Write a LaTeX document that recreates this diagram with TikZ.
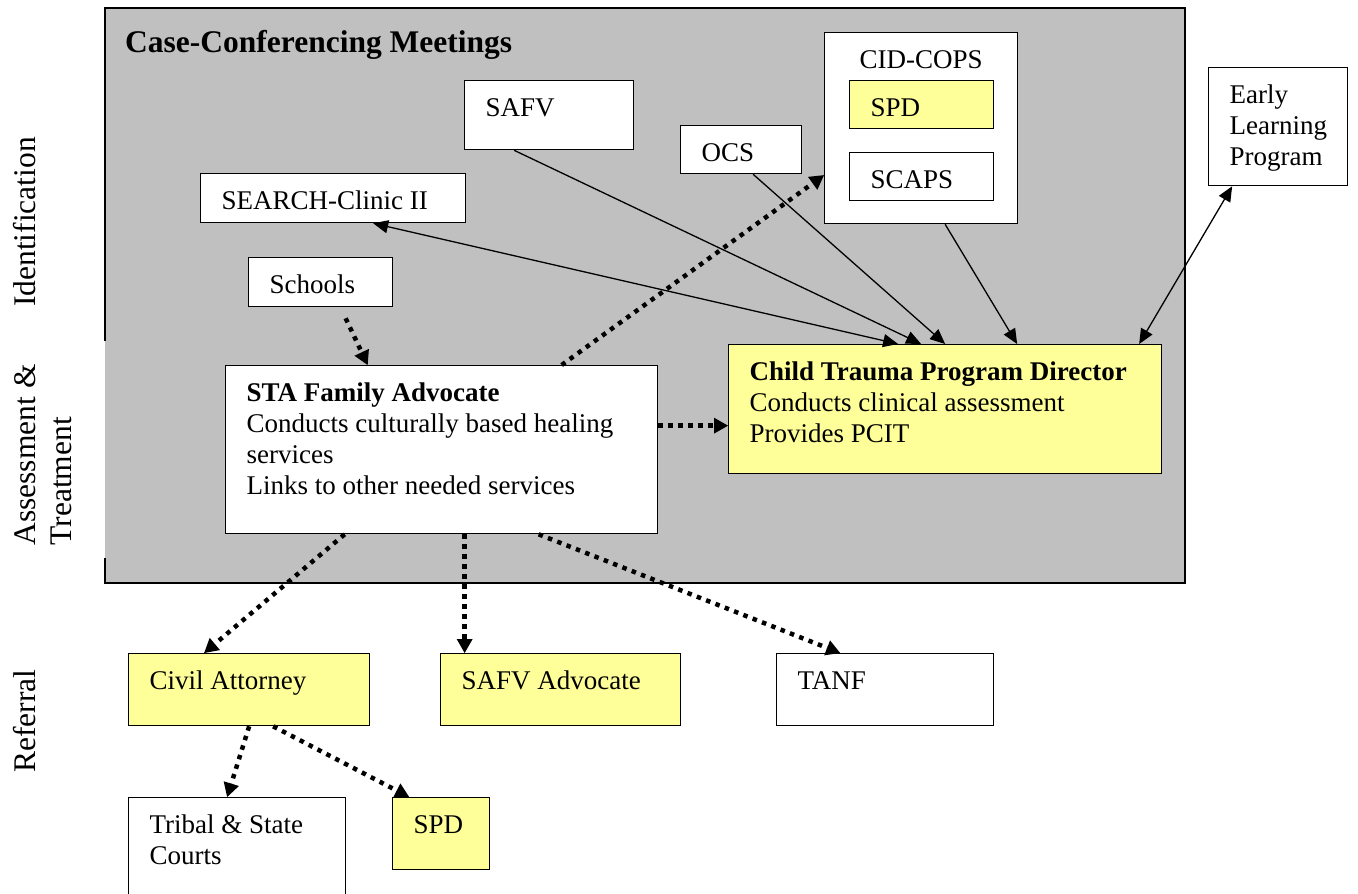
\documentclass[tikz,border=0pt]{standalone}
\usepackage{fontspec}
\setmainfont{Liberation Serif}
\usetikzlibrary{arrows.meta}
\definecolor{panel}{HTML}{C0C0C0}
\definecolor{hilite}{HTML}{FFFF99}
\newcommand{\bodyfont}{\fontsize{27}{31}\selectfont}
\newcommand{\sidefont}{\fontsize{31.5}{36}\selectfont}
\newcommand{\pane}[3]{\parbox[t][#2pt][t]{#1pt}{\raggedright\leftskip=21pt\vspace*{14pt}\strut#3}}
\tikzset{
  cell/.style={draw, line width=1.3pt, fill=white, anchor=north west, inner sep=0pt, font=\bodyfont},
  hot/.style={cell, fill=hilite},
  side/.style={font=\sidefont, rotate=90, inner sep=0pt},
  link/.style={line width=1.3pt, -{Triangle[length=15pt,width=13pt]}},
  twoway/.style={line width=1.3pt, {Triangle[length=15pt,width=13pt]}-{Triangle[length=15pt,width=13pt]}},
  dotlink/.style={line width=4.5pt, dash pattern=on 4.5pt off 5.5pt, -{Triangle[length=14pt,width=16pt,line width=0pt]}}
}
\begin{document}
\begin{tikzpicture}[x=1pt, y=-1pt]
  \clip (0,0) rectangle (1358,894);
  \fill[panel] (105,8) rectangle (1185,583);
  \draw[line width=2pt] (105,341) -- (105,8) -- (1185,8) -- (1185,583) -- (105,583) -- (105,558);
  \node[font=\sidefont\bfseries, anchor=base west, inner sep=0pt] (title) at (125,52) {Case-Conferencing Meetings};
  \node[side, anchor=base] (ident) at (35,222) {Identification};
  \node[side, align=left] (assess) at (43,455) {Assessment \&\\Treatment};
  \node[side, anchor=base] (refer) at (35,721) {Referral};

  \node[cell] (safv) at (464,80) {\pane{169}{69}{SAFV}};
  \node[cell] (ocs) at (680,125) {\pane{121}{48}{OCS}};
  \node[cell] (cid) at (824,32) {\pane{193}{191}{\centering CID-COPS}};
  \node[hot] (cidspd) at (849,80) {\pane{144}{48}{SPD}};
  \node[cell] (scaps) at (849,152) {\pane{144}{48}{SCAPS}};
  \node[cell] (early) at (1208,67) {\pane{139}{118}{Early\\Learning\\Program}};
  \node[cell] (search) at (200,173) {\pane{265}{49}{SEARCH-Clinic II}};
  \node[cell] (schools) at (248,257) {\pane{144}{49}{Schools}};
  \node[cell] (sta) at (225,365) {\pane{432}{168}{\textbf{STA Family Advocate}\\Conducts culturally based healing\\services\\Links to other needed services}};
  \node[hot] (ctpd) at (728,344) {\pane{433}{129}{\textbf{Child Trauma Program Director}\\Conducts clinical assessment\\Provides PCIT}};
  \node[hot] (civil) at (128,653) {\pane{241}{72}{Civil Attorney}};
  \node[hot] (safvadv) at (440,653) {\pane{240}{72}{SAFV Advocate}};
  \node[cell] (tanf) at (776,653) {\pane{217}{72}{TANF}};
  \node[cell] (courts) at (128,797) {\pane{217}{110}{Tribal \& State\\Courts}};
  \node[hot] (spd) at (392,797) {\pane{97}{72}{SPD}};

  \draw[twoway] ([xshift=40pt]search.south) -- ([xshift=-47pt]ctpd.north);
  \draw[link] ([xshift=-35pt]safv.south) -- ([xshift=-24pt]ctpd.north);
  \draw[link] ([xshift=12pt]ocs.south) -- (ctpd.north);
  \draw[link] ([xshift=24pt]cid.south) -- ([xshift=72pt]ctpd.north);
  \draw[twoway] ([xshift=-46pt]early.south) -- ([xshift=194pt]ctpd.north);
  \draw[dotlink] ([xshift=25pt,yshift=-11pt]schools.south) -- ([xshift=-74pt]sta.north);
  \draw[dotlink] ([xshift=120pt]sta.north) -- ([yshift=-47pt]cid.west);
  \draw[dotlink] ([yshift=24pt]sta.east) -- ([yshift=-16.5pt]ctpd.west);
  \draw[dotlink] ([xshift=-97pt]sta.south) -- ([xshift=-45pt]civil.north);
  \draw[dotlink] ([xshift=23pt]sta.south) -- ([xshift=-96pt]safvadv.north);
  \draw[dotlink] ([xshift=97pt]sta.south) -- ([xshift=-45pt]tanf.north);
  \draw[dotlink] (civil.south) -- ([xshift=-10pt]courts.north);
  \draw[dotlink] ([xshift=24pt]civil.south) -- ([xshift=-32pt]spd.north);
\end{tikzpicture}
\end{document}
